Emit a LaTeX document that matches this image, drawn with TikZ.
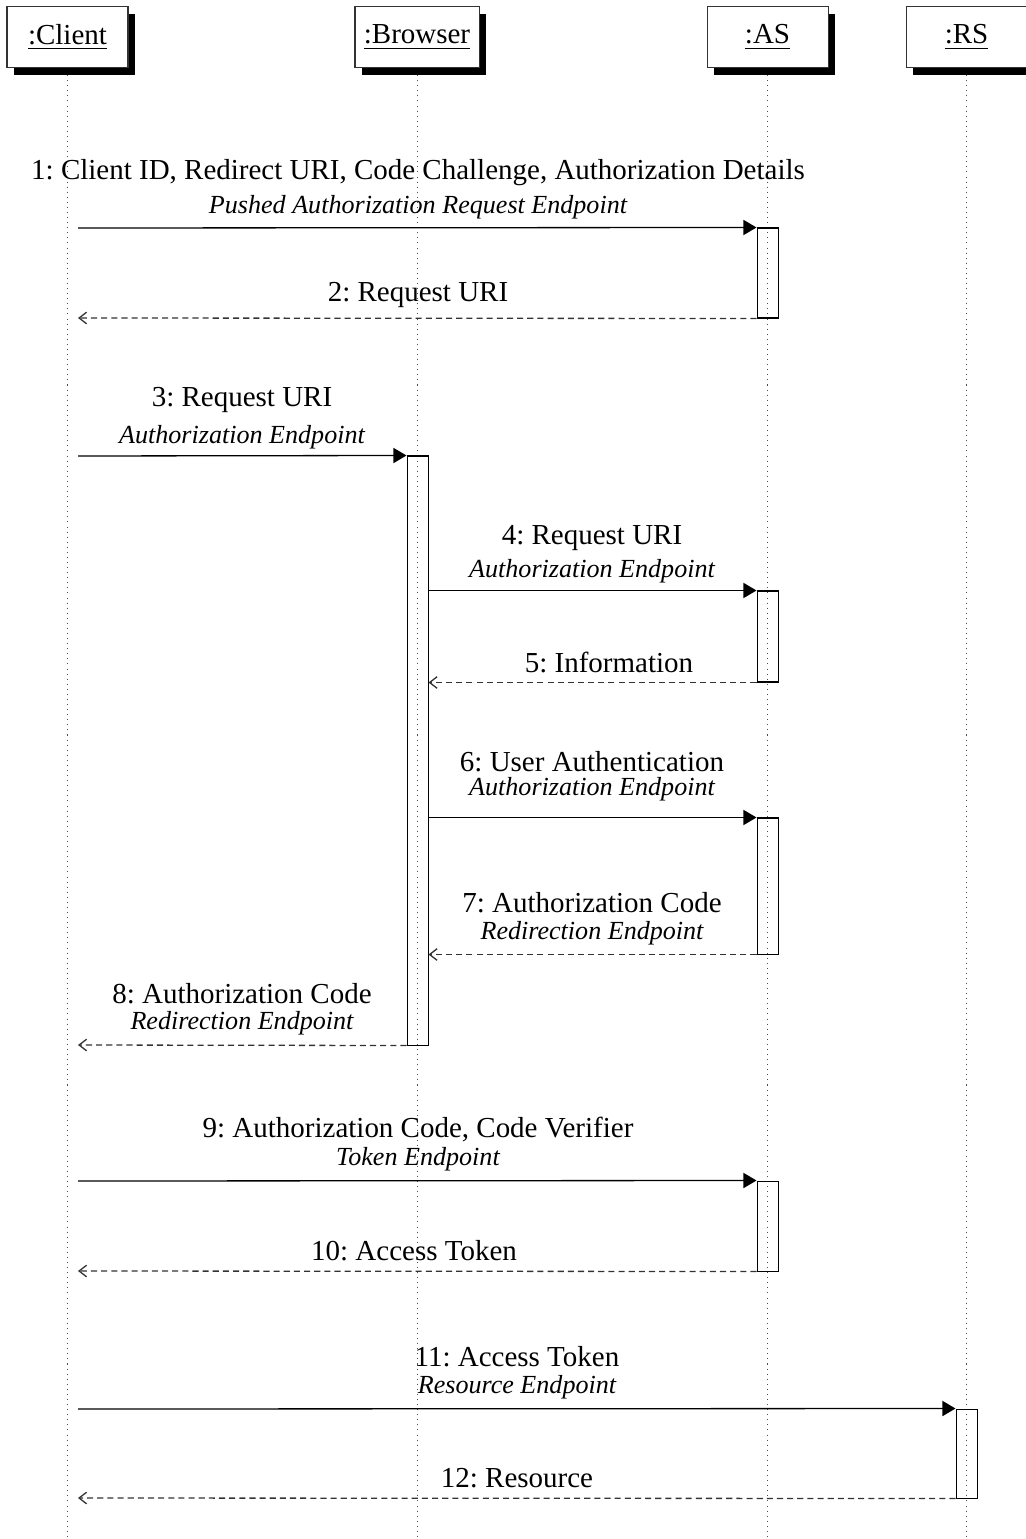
\documentclass[tikz,border=0pt]{standalone}
\usepackage{fontspec}
\setmainfont{Liberation Serif}
\usetikzlibrary{arrows.meta,calc,shadows}

\def\pxu{0.345pt}

\tikzset{
  instance/.style={draw=black!80, line width=0.35pt, fill=white, rectangle,
    minimum height=61*\pxu, inner sep=0pt, font=\fontsize{10pt}{12pt}\selectfont,
    drop shadow={shadow xshift=6.5*\pxu, shadow yshift=-7*\pxu, fill=black, opacity=1}},
  lifeline/.style={draw=black!70, line width=0.4pt, dash pattern=on 0.35pt off 1.4pt},
  act/.style={draw=black, line width=0.35pt, rectangle, minimum width=21*\pxu, inner sep=0pt},
  call/.style={draw=black, line width=0.45pt, -{Triangle[length=4.5pt,width=5.2pt]}},
  ret/.style={draw=black!80, line width=0.45pt, dash pattern=on 2.1pt off 1.4pt,
    -{Straight Barb[length=2.6pt,width=4pt]}},
  msg/.style={anchor=base, inner sep=0pt, font=\fontsize{10pt}{12pt}\selectfont},
  ep/.style={anchor=base, inner sep=0pt, font=\fontsize{9pt}{11pt}\selectfont\itshape},
}

\begin{document}
\begin{tikzpicture}[x=0.345pt, y=-0.345pt]
\useasboundingbox (0,0) rectangle (1025,1539);

% lifeline ends
\coordinate (clEnd) at (67.5,1539);
\coordinate (brEnd) at (417.5,1539);
\coordinate (asEnd) at (767.5,1539);
\coordinate (rsEnd) at (966.5,1539);

% lifelines, drawn first so the instance boxes sit on top
\draw[lifeline] (67.5,70) -- (clEnd);
\draw[lifeline] (417.5,70) -- (brEnd);
\draw[lifeline] (767.5,70) -- (asEnd);
\draw[lifeline] (966.5,70) -- (rsEnd);

% instances
\node[instance, minimum width=121*\pxu] (cl) at (67.5,37.5) {\underline{:Client}};
\node[instance, minimum width=124*\pxu] (br) at (417,37.5) {\underline{:Browser}};
\node[instance, minimum width=121*\pxu] (as) at (767.5,37.5) {\underline{:AS}};
\node[instance, minimum width=121*\pxu] (rs) at (966.5,37.5) {\underline{:RS}};

% activation bars
\node[act, minimum height=90*\pxu]  (as1) at (767.5,273) {};
\node[act, minimum height=589*\pxu] (br1) at (417.5,750.5) {};
\node[act, minimum height=91*\pxu]  (as2) at (767.5,636.5) {};
\node[act, minimum height=136*\pxu] (as3) at (767.5,886) {};
\node[act, minimum height=90*\pxu]  (as4) at (767.5,1226) {};
\node[act, minimum height=89*\pxu]  (rs1) at (966.5,1453.5) {};

% points on the client's lifeline where messages start and end
\coordinate (c1) at (78,228);
\coordinate (c2) at (78,318);
\coordinate (c3) at (78,456);
\coordinate (c8) at (78,1045);
\coordinate (c9) at (78,1181);
\coordinate (c10) at (78,1271);
\coordinate (c11) at (78,1409);
\coordinate (c12) at (78,1498);

% 1 / 2
\draw[call] (c1) -- (as1.north west);
\node[msg] (m1) at (418,180) {1:\ Client ID, Redirect URI, Code Challenge, Authorization Details};
\node[ep] (e1) at (418,214) {Pushed Authorization Request Endpoint};
\draw[ret] (as1.south west) -- (c2);
\node[msg] (m2) at (418,302) {2:\ Request URI};

% 3
\draw[call] (c3) -- (br1.north west);
\node[msg] (m3) at (242,407) {3:\ Request URI};
\node[ep] (e3) at (242,443) {Authorization Endpoint};

% 4 / 5
\draw[call] (br1.east |- as2.north west) -- (as2.north west);
\node[msg] (m4) at (592,544) {4:\ Request URI};
\node[ep] (e4) at (592,577) {Authorization Endpoint};
\draw[ret] (as2.south west) -- (br1.east |- as2.south west);
\node[msg] (m5) at (609,672) {5:\ Information};

% 6 / 7
\draw[call] (br1.east |- as3.north west) -- (as3.north west);
\node[msg] (m6) at (592,771) {6:\ User Authentication};
\node[ep] (e6) at (592,795) {Authorization Endpoint};
\draw[ret] (as3.south west) -- (br1.east |- as3.south west);
\node[msg] (m7) at (592,912) {7:\ Authorization Code};
\node[ep] (e7) at (592,939) {Redirection Endpoint};

% 8
\draw[ret] (br1.south west) -- (c8);
\node[msg] (m8) at (242,1003) {8:\ Authorization Code};
\node[ep] (e8) at (242,1029) {Redirection Endpoint};

% 9 / 10
\draw[call] (c9) -- (as4.north west);
\node[msg] (m9) at (418,1137) {9:\ Authorization Code, Code Verifier};
\node[ep] (e9) at (418,1165) {Token Endpoint};
\draw[ret] (as4.south west) -- (c10);
\node[msg] (m10) at (414,1260) {10:\ Access Token};

% 11 / 12
\draw[call] (c11) -- (rs1.north west);
\node[msg] (m11) at (517,1366) {11:\ Access Token};
\node[ep] (e11) at (517,1393) {Resource Endpoint};
\draw[ret] (rs1.south west) -- (c12);
\node[msg] (m12) at (517,1487) {12:\ Resource};
\end{tikzpicture}
\end{document}
